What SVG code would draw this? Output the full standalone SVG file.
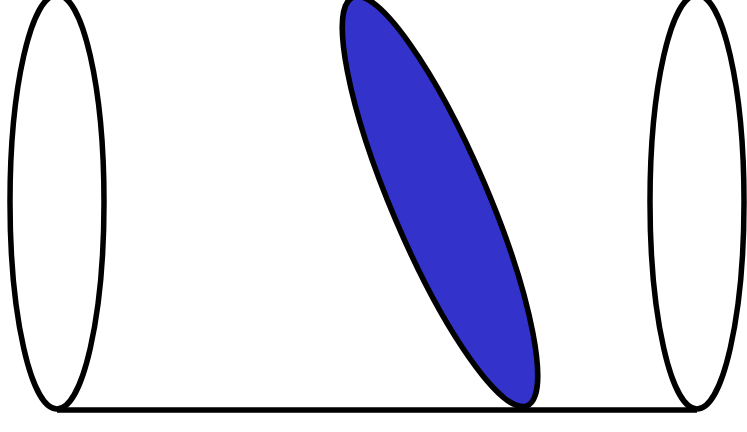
<svg xmlns="http://www.w3.org/2000/svg" width="747" height="432" viewBox="0 0 747 432">
<style>
.s{fill:none;stroke:#000;stroke-width:5.5}
</style>
<rect width="747" height="432" fill="#fff"/>
<g id="cylinder">
<ellipse id="left" class="s" cx="57" cy="202" rx="47" ry="207"/>
<ellipse id="right" class="s" cx="697" cy="202" rx="47" ry="207"/>
<line id="bottom" class="s" x1="57" y1="410" x2="697" y2="410"/>
</g>
<g id="slice">
<ellipse cx="0" cy="0" rx="222" ry="48" transform="translate(440 201.5) rotate(66.9)" fill="#3333CC" stroke="#000" stroke-width="5.5"/>
</g>
</svg>
